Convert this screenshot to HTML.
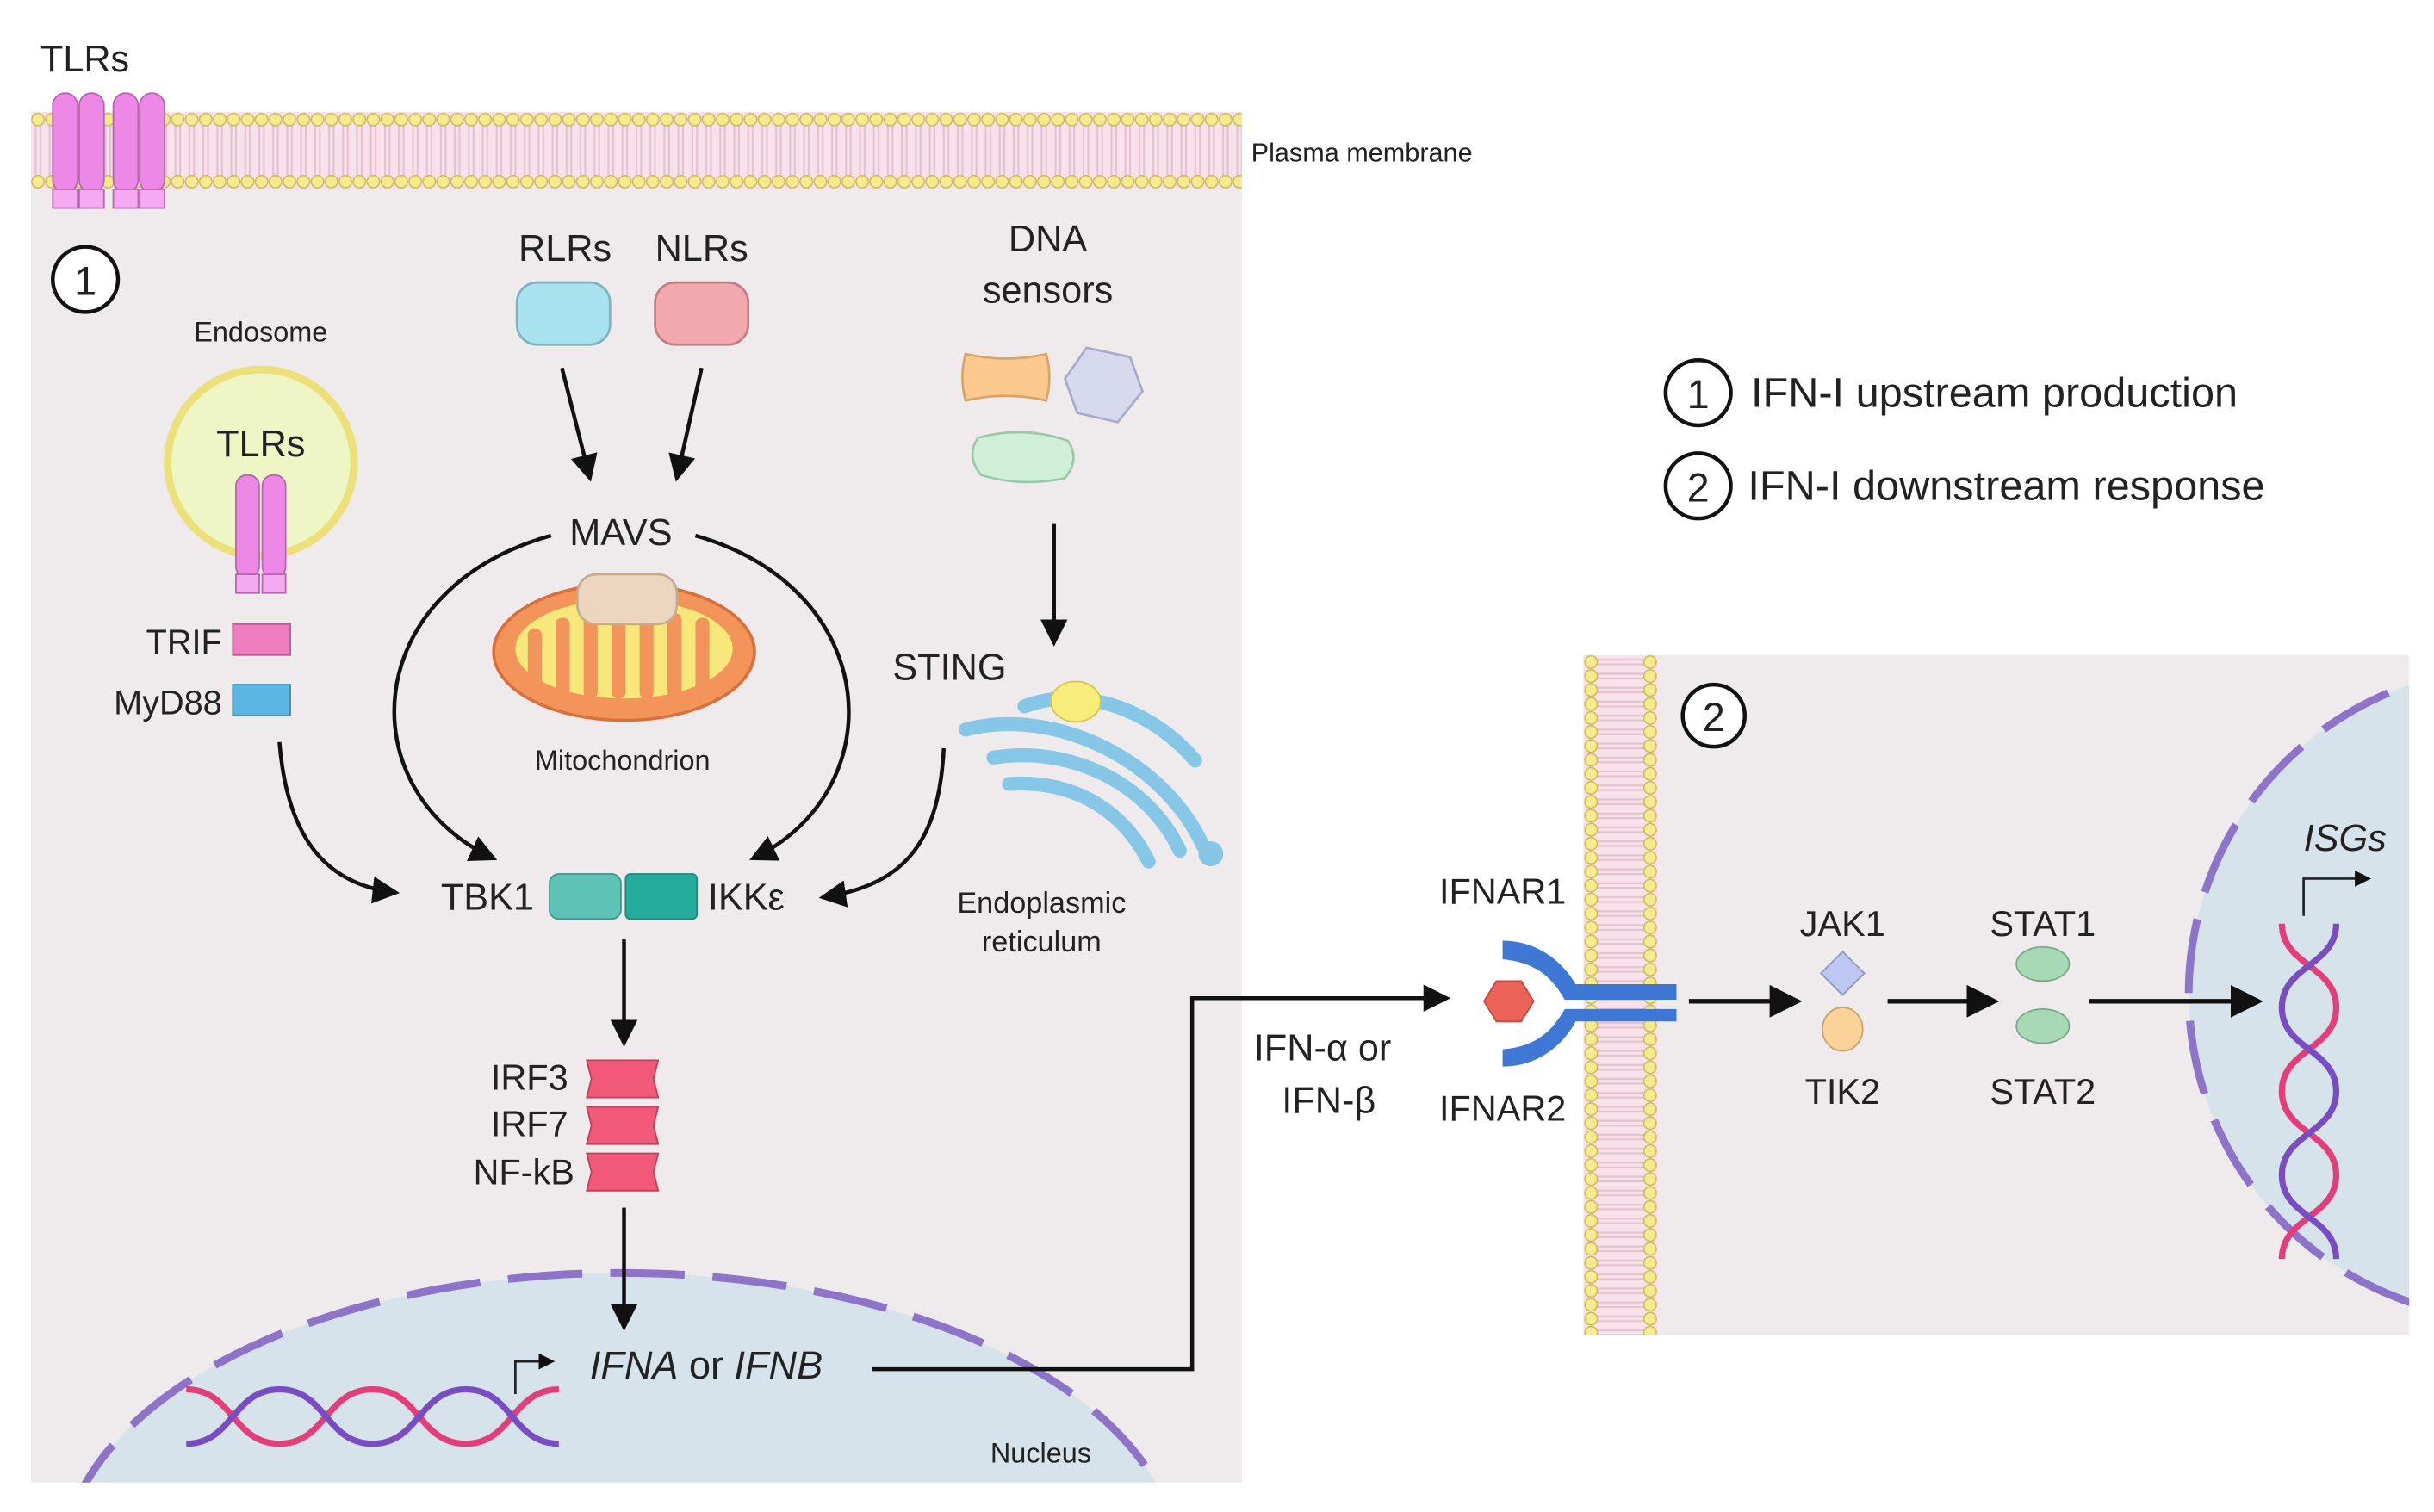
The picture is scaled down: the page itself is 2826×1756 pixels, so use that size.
<!DOCTYPE html>
<html><head><meta charset="utf-8"><style>
html,body{margin:0;padding:0;background:#fff;overflow:hidden;width:2826px;height:1756px;}
svg{display:block;}
text{font-family:"Liberation Sans",Arial,sans-serif;fill:#222;}
</style></head><body>
<svg width="2826" height="1756" viewBox="0 0 1568 974" preserveAspectRatio="none" xmlns="http://www.w3.org/2000/svg">
<defs>
<marker id="ah" markerWidth="8" markerHeight="8" refX="6" refY="4" orient="auto" markerUnits="strokeWidth"><path d="M0,0.5 L7,4 L0,7.5 Z" fill="#111"/></marker>
<pattern id="memH" x="20" y="72" width="9" height="50" patternUnits="userSpaceOnUse">
<rect x="0" y="0" width="9" height="50" fill="#f8e1ea"/>
<line x1="3" y1="8" x2="3" y2="42" stroke="#e2c3cf" stroke-width="1.2"/>
<line x1="6" y1="8" x2="6" y2="42" stroke="#e2c3cf" stroke-width="1.2"/>
<circle cx="4.5" cy="5" r="4" fill="#f5ea8e" stroke="#c9b95a" stroke-width="0.8"/>
<circle cx="4.5" cy="45" r="4" fill="#f5ea8e" stroke="#c9b95a" stroke-width="0.8"/>
</pattern>
<pattern id="memV" x="1020" y="422" width="48" height="9" patternUnits="userSpaceOnUse">
<rect x="0" y="0" width="48" height="9" fill="#f8e1ea"/>
<line x1="8" y1="3" x2="40" y2="3" stroke="#e2c3cf" stroke-width="1.2"/>
<line x1="8" y1="6" x2="40" y2="6" stroke="#e2c3cf" stroke-width="1.2"/>
<circle cx="5" cy="4.5" r="4" fill="#f5ea8e" stroke="#c9b95a" stroke-width="0.8"/>
<circle cx="43" cy="4.5" r="4" fill="#f5ea8e" stroke="#c9b95a" stroke-width="0.8"/>
</pattern>
<clipPath id="lc"><rect x="20" y="100" width="780" height="855"/></clipPath>
<clipPath id="rc"><rect x="1040" y="422" width="512" height="438"/></clipPath>
</defs>

<!-- left panel -->
<rect x="20" y="100" width="780" height="855" fill="#efebed"/>
<rect x="20" y="72" width="780" height="50" fill="url(#memH)"/>
<text x="806" y="104" font-size="17">Plasma membrane</text>
<g fill="#ee88e6" stroke="#b864b0" stroke-width="1">
<rect x="34" y="60" width="16" height="64" rx="8"/><rect x="51" y="60" width="16" height="64" rx="8"/>
<rect x="73" y="60" width="16" height="64" rx="8"/><rect x="90" y="60" width="16" height="64" rx="8"/>
<rect x="34" y="122" width="16" height="12" fill="#f3aaf0"/><rect x="51" y="122" width="16" height="12" fill="#f3aaf0"/>
<rect x="73" y="122" width="16" height="12" fill="#f3aaf0"/><rect x="90" y="122" width="16" height="12" fill="#f3aaf0"/>
</g>
<text x="26" y="46" font-size="24">TLRs</text>
<circle cx="55" cy="180" r="21" fill="#fff" stroke="#111" stroke-width="2.5"/>
<text x="55" y="190" font-size="26" text-anchor="middle">1</text>

<!-- left nucleus -->
<g clip-path="url(#lc)">
<ellipse cx="400" cy="1010" rx="360" ry="190" fill="#d6e3ea" stroke="#8d74c8" stroke-width="5" stroke-dasharray="48,18"/>
</g>
<text x="638" y="942" font-size="18">Nucleus</text>
<g fill="none" stroke-width="4">
<path d="M120,895 C150,895 150,930 180,930 C210,930 210,895 240,895 C270,895 270,930 300,930 C330,930 330,895 360,895" stroke="#e33e7a"/>
<path d="M120,930 C150,930 150,895 180,895 C210,895 210,930 240,930 C270,930 270,895 300,895 C330,895 330,930 360,930" stroke="#7a4cc2"/>
</g>
<path d="M332,898 V877 H356" fill="none" stroke="#222" stroke-width="1.5" marker-end="url(#ah)"/>
<text x="380" y="888" font-size="25"><tspan font-style="italic">IFNA</tspan> or <tspan font-style="italic">IFNB</tspan></text>

<!-- Endosome -->
<text x="168" y="220" font-size="18" text-anchor="middle">Endosome</text>
<circle cx="168" cy="298" r="60" fill="#eef6c6" stroke="#ebe07a" stroke-width="5"/>
<text x="168" y="294" font-size="24" text-anchor="middle">TLRs</text>
<g fill="#ee88e6" stroke="#b864b0" stroke-width="1">
<rect x="152" y="306" width="15" height="66" rx="7"/><rect x="169" y="306" width="15" height="66" rx="7"/>
<rect x="152" y="370" width="15" height="12" fill="#f3aaf0"/><rect x="169" y="370" width="15" height="12" fill="#f3aaf0"/>
</g>
<text x="143" y="421" font-size="22" text-anchor="end">TRIF</text>
<rect x="150" y="402" width="37" height="20" fill="#ee7ec0" stroke="#b75b92"/>
<text x="143" y="460" font-size="22" text-anchor="end">MyD88</text>
<rect x="150" y="441" width="37" height="20" fill="#5bb6e3" stroke="#3d8bb0"/>

<!-- RLR NLR -->
<text x="364" y="168" font-size="24" text-anchor="middle">RLRs</text>
<text x="452" y="168" font-size="24" text-anchor="middle">NLRs</text>
<rect x="333" y="182" width="60" height="40" rx="13" fill="#a8e2ef" stroke="#7fb3bd" stroke-width="1.5"/>
<rect x="422" y="182" width="60" height="40" rx="13" fill="#f2a9ae" stroke="#c07f85" stroke-width="1.5"/>
<g stroke="#111" stroke-width="2.5" fill="none" marker-end="url(#ah)">
<line x1="362" y1="237" x2="380" y2="308"/>
<line x1="452" y1="237" x2="436" y2="308"/>
</g>
<text x="400" y="351" font-size="24" text-anchor="middle">MAVS</text>
<!-- mitochondrion -->
<ellipse cx="402" cy="420" rx="84" ry="44" fill="#f3955b" stroke="#d86f3d" stroke-width="2"/>
<ellipse cx="402" cy="418" rx="70" ry="32" fill="#f8e77a"/>
<g fill="#f3955b">
<rect x="340" y="405" width="9" height="40" rx="4"/>
<rect x="358" y="398" width="9" height="50" rx="4"/>
<rect x="376" y="395" width="9" height="55" rx="4"/>
<rect x="394" y="395" width="9" height="55" rx="4"/>
<rect x="412" y="395" width="9" height="55" rx="4"/>
<rect x="430" y="395" width="9" height="55" rx="4"/>
<rect x="448" y="398" width="9" height="50" rx="4"/>
</g>
<rect x="372" y="370" width="64" height="32" rx="12" fill="#ecd6c0" stroke="#c7ab91" stroke-width="1.5"/>
<text x="401" y="496" font-size="18" text-anchor="middle">Mitochondrion</text>
<g stroke="#111" stroke-width="2.5" fill="none" marker-end="url(#ah)">
<path d="M355,345 C230,380 225,510 318,553"/>
<path d="M448,345 C570,380 575,510 485,553"/>
<path d="M180,478 C185,540 210,570 255,575"/>
<path d="M608,482 C605,540 585,570 530,578"/>
<line x1="402" y1="605" x2="402" y2="672"/>
<line x1="402" y1="778" x2="402" y2="855"/>
<line x1="679" y1="337" x2="679" y2="414"/>
</g>
<text x="344" y="586" font-size="24" text-anchor="end">TBK1</text>
<rect x="354" y="563" width="46" height="29" rx="6" fill="#5ec2b6" stroke="#3d978c"/>
<rect x="403" y="563" width="46" height="29" rx="3" fill="#25ab9c" stroke="#1d8a7e"/>
<text x="456" y="586" font-size="24">IKKε</text>
<g fill="#f25878" stroke="#c43d5a">
<path d="M378,683 h46 l-3,12 l3,12 h-46 l3,-12 z"/>
<path d="M378,713 h46 l-3,12 l3,12 h-46 l3,-12 z"/>
<path d="M378,743 h46 l-3,12 l3,12 h-46 l3,-12 z"/>
</g>
<text x="366" y="702" font-size="23" text-anchor="end">IRF3</text>
<text x="366" y="732" font-size="23" text-anchor="end">IRF7</text>
<text x="370" y="763" font-size="23" text-anchor="end">NF-kB</text>

<!-- DNA sensors -->
<text x="675" y="162" font-size="24" text-anchor="middle">DNA</text>
<text x="675" y="195" font-size="24" text-anchor="middle">sensors</text>
<path d="M622,228 q26,6 52,0 q4,15 0,30 q-26,-6 -52,0 q-4,-15 0,-30z" fill="#fbc88e" stroke="#d9a467" stroke-width="1.5"/>
<polygon points="700,224 728,230 736,252 720,272 694,266 686,244" fill="#d7d9ef" stroke="#a7aac8" stroke-width="1.5"/>
<path d="M630,282 q30,-8 58,2 q8,12 -2,24 q-28,6 -54,-2 q-10,-12 -2,-24z" fill="#cfefd9" stroke="#9cc7aa" stroke-width="1.5"/>
<text x="575" y="438" font-size="24">STING</text>
<g fill="none" stroke="#86c6e6" stroke-width="9" stroke-linecap="round">
<path d="M622,470 C680,455 750,490 775,545"/>
<path d="M640,488 C690,480 740,505 760,548"/>
<path d="M650,505 C695,502 725,525 740,555"/>
<path d="M660,455 C700,440 745,460 770,490"/>
</g>
<circle cx="780" cy="550" r="8" fill="#86c6e6"/>
<ellipse cx="693" cy="452" rx="16" ry="13" fill="#f8ec7a" stroke="#d6c64b"/>
<text x="671" y="588" font-size="19" text-anchor="middle">Endoplasmic</text>
<text x="671" y="613" font-size="19" text-anchor="middle">reticulum</text>

<path d="M562,882 H768 V643 H932" fill="none" stroke="#111" stroke-width="2.5" marker-end="url(#ah)"/>
<text x="852" y="683" font-size="24" text-anchor="middle">IFN-α or</text>
<text x="856" y="717" font-size="24" text-anchor="middle">IFN-β</text>

<!-- legend -->
<circle cx="1094" cy="253" r="21" fill="#fff" stroke="#111" stroke-width="2.5"/>
<text x="1094" y="263" font-size="26" text-anchor="middle">1</text>
<text x="1128" y="262" font-size="27">IFN-I upstream production</text>
<circle cx="1094" cy="313" r="21" fill="#fff" stroke="#111" stroke-width="2.5"/>
<text x="1094" y="323" font-size="26" text-anchor="middle">2</text>
<text x="1126" y="322" font-size="27">IFN-I downstream response</text>

<!-- right panel -->
<rect x="1045" y="422" width="507" height="438" fill="#efebed"/>
<g clip-path="url(#rc)">
<circle cx="1620" cy="640" r="210" fill="#d6e3ea" stroke="#8d74c8" stroke-width="5" stroke-dasharray="48,18"/>
</g>
<rect x="1020" y="422" width="48" height="438" fill="url(#memV)"/>
<circle cx="1104" cy="461" r="20" fill="#fff" stroke="#111" stroke-width="2.5"/>
<text x="1104" y="471" font-size="26" text-anchor="middle">2</text>
<g fill="#3f78d4">
<path d="M968,606 C995,606 1010,625 1015,634 H1080 V644 H1008 C1000,630 990,620 968,618 Z"/>
<path d="M968,683 C995,683 1010,664 1015,654 H1080 V646 H1008 C1000,660 990,670 968,672 Z" transform="translate(0,4)"/>
</g>
<polygon points="964,632 980,632 988,645 980,658 964,658 956,645" fill="#ea6258" stroke="#c04b42"/>
<text x="968" y="582" font-size="23" text-anchor="middle">IFNAR1</text>
<text x="968" y="722" font-size="23" text-anchor="middle">IFNAR2</text>
<g stroke="#111" stroke-width="3" fill="none" marker-end="url(#ah)">
<line x1="1088" y1="645" x2="1158" y2="645"/>
<line x1="1216" y1="645" x2="1285" y2="645"/>
<line x1="1346" y1="645" x2="1455" y2="645"/>
</g>
<text x="1187" y="603" font-size="23" text-anchor="middle">JAK1</text>
<polygon points="1187,613 1201,627 1187,641 1173,627" fill="#bcc8f0" stroke="#8c98c2"/>
<ellipse cx="1187" cy="663" rx="13" ry="14" fill="#fbd39a" stroke="#c9a36b"/>
<text x="1187" y="711" font-size="23" text-anchor="middle">TIK2</text>
<text x="1316" y="603" font-size="23" text-anchor="middle">STAT1</text>
<ellipse cx="1316" cy="621" rx="17" ry="11" fill="#a8d9b5" stroke="#7aa987"/>
<ellipse cx="1316" cy="661" rx="17" ry="11" fill="#a8d9b5" stroke="#7aa987"/>
<text x="1316" y="711" font-size="23" text-anchor="middle">STAT2</text>
<g fill="none" stroke-width="4">
<path d="M1470,595 C1470,622 1505,622 1505,649 C1505,676 1470,676 1470,703 C1470,730 1505,730 1505,757 C1505,784 1470,784 1470,811" stroke="#e33e7a"/>
<path d="M1505,595 C1505,622 1470,622 1470,649 C1470,676 1505,676 1505,703 C1505,730 1470,730 1470,757 C1470,784 1505,784 1505,811" stroke="#7a4cc2"/>
</g>
<path d="M1484,590 V566 H1526" fill="none" stroke="#222" stroke-width="1.5" marker-end="url(#ah)"/>
<text x="1484" y="548" font-size="24" font-style="italic">ISGs</text>
</svg>
</body></html>
